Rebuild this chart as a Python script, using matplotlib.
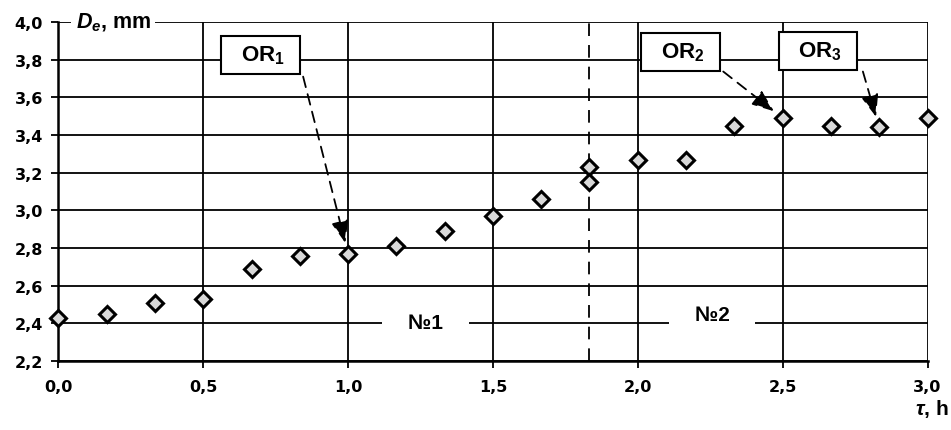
import matplotlib
matplotlib.use("Agg")
import matplotlib.pyplot as plt
from matplotlib.ticker import FuncFormatter, MultipleLocator

plt.rcParams["mathtext.fontset"] = "custom"
plt.rcParams["mathtext.rm"] = "Liberation Sans:bold"
plt.rcParams["mathtext.bf"] = "Liberation Sans:bold"
plt.rcParams["mathtext.it"] = "Liberation Sans:italic:bold"
plt.rcParams["mathtext.bfit"] = "Liberation Sans:italic:bold"

# data
t_hours = [0.0, 0.167, 0.333, 0.5, 0.667, 0.833, 1.0, 1.167, 1.333, 1.5,
           1.667, 1.833, 1.833, 2.0, 2.167, 2.333, 2.5, 2.667, 2.833, 3.0]
De_mm = [2.43, 2.45, 2.51, 2.53, 2.69, 2.76, 2.77, 2.81, 2.89, 2.97,
         3.06, 3.23, 3.15, 3.27, 3.27, 3.45, 3.49, 3.45, 3.44, 3.49]
mode_switch = 1.833
mode_labels = ["№1", "№2"]
or_names = ["1", "2", "3"]
or_points = [6, 16, 18]

fig = plt.figure(figsize=(9.51, 4.31), dpi=100)
ax = fig.add_axes([0.0613, 0.160, 0.914, 0.7866])

ax.set_xlim(0, 3.0)
ax.set_ylim(2.2, 4.0)
ax.xaxis.set_major_locator(MultipleLocator(0.5))
ax.yaxis.set_major_locator(MultipleLocator(0.2))
comma = FuncFormatter(lambda v, p: f"{v:.1f}".replace(".", ","))
ax.xaxis.set_major_formatter(comma)
ax.yaxis.set_major_formatter(comma)
for lab in ax.get_xticklabels() + ax.get_yticklabels():
    lab.set_fontfamily("DejaVu Sans")
    lab.set_fontweight("bold")
    lab.set_fontsize(11.5)
ax.tick_params(axis="both", direction="out", length=5, width=1.3, color="black", pad=6)
ax.tick_params(axis="x", pad=8)

ax.grid(True, color="black", linewidth=1.3)
ax.set_axisbelow(True)
for s in ["top", "right"]:
    ax.spines[s].set_visible(False)
for s in ["left", "bottom"]:
    ax.spines[s].set_linewidth(1.8)

# mode switch
ax.axvline(mode_switch, color="black", lw=1.3, ls=(0, (7, 5)), zorder=2)

# mode labels on the 2.4 line
ax.text(1.268, 2.405, "    " + mode_labels[0] + "    ", ha="center", va="center",
        fontsize=15, fontweight="bold", family="Liberation Sans",
        bbox=dict(facecolor="white", edgecolor="none", pad=2), zorder=3)
ax.text(2.256, 2.448, "    " + mode_labels[1] + "    ", ha="center", va="center",
        fontsize=15, fontweight="bold", family="Liberation Sans",
        bbox=dict(facecolor="white", edgecolor="none", pad=2), zorder=3)

# points
ax.plot(t_hours, De_mm, ls="none", marker="D", markersize=8.5,
        markerfacecolor="#d9d9d9", markeredgecolor="black", markeredgewidth=2.2,
        clip_on=False, zorder=6)

# OR boxes and arrows
box_xy = [(0.698, 3.825), (2.148, 3.843), (2.622, 3.848)]
arrow_start = [(0.845, 3.71), (2.295, 3.737), (2.777, 3.737)]
for name, idx, bxy, st in zip(or_names, or_points, box_xy, arrow_start):
    ax.text(bxy[0], bxy[1], "  $\\mathbf{OR}_{\\mathbf{" + name + "}}$  ",
            ha="center", va="center", fontsize=16, family="Liberation Sans",
            fontweight="bold",
            bbox=dict(boxstyle="square,pad=0.35", facecolor="white",
                      edgecolor="black", linewidth=1.5), zorder=4)
    ax.annotate("", xy=(t_hours[idx], De_mm[idx]), xytext=st,
                arrowprops=dict(arrowstyle="-|>,head_length=0.9,head_width=0.35",
                                linestyle=(0, (6, 4)), color="black", lw=1.3,
                                shrinkA=0, shrinkB=8, mutation_scale=15),
                zorder=5)

# axis titles
ax.text(0.19, 4.0, "$\\mathbfit{D}_{\\mathbfit{e}}$, mm", ha="center", va="center",
        fontsize=15.5, fontweight="bold", family="Liberation Sans",
        bbox=dict(facecolor="white", edgecolor="none", pad=3), zorder=4)
fig.text(0.998, 0.025, "$\\mathbfit{\\tau}$, h", ha="right", va="bottom",
         fontsize=15, fontweight="bold", family="Liberation Sans")

fig.savefig("out.png", dpi=100)
